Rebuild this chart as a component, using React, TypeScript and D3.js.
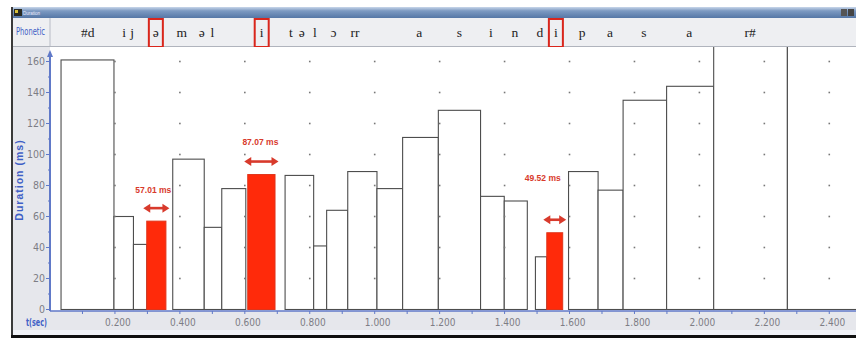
import React from 'react'
import * as d3 from 'd3'

// segment boundaries (s) and durations (ms)
const segStart = [0.034, 0.197, 0.257, 0.298, 0.378, 0.475, 0.529, 0.609, 0.724, 0.812, 0.852, 0.917, 1.007, 1.086, 1.196, 1.326, 1.399, 1.495, 1.530, 1.597, 1.688, 1.765, 1.899, 2.044, 2.271]
const segEnd = [0.197, 0.257, 0.298, 0.357, 0.475, 0.529, 0.603, 0.693, 0.812, 0.852, 0.917, 1.007, 1.086, 1.196, 1.326, 1.399, 1.470, 1.530, 1.579, 1.688, 1.765, 1.899, 2.044, 2.271, 2.6]
const durations = [161, 60, 42, 57.01, 97, 53, 78, 87.07, 86.5, 41, 64, 89, 78, 111, 128.5, 73, 70, 34, 49.52, 89, 77, 135, 144, 230, 240]
const highlighted = [3, 7, 18]
const annoLabels = ['57.01 ms', '87.07 ms', '49.52 ms']

// phonetic tier
const phoneLabels = ['#d', 'i', 'j', 'ə', 'm', 'ə', 'l', 'i', 't', 'ə', 'l', 'ɔ', 'rr', 'a', 's', 'i', 'n', 'd', 'i', 'p', 'a', 's', 'a', 'r#']
const phoneTimes = [0.116, 0.228, 0.253, 0.326, 0.406, 0.467, 0.500, 0.652, 0.742, 0.775, 0.816, 0.873, 0.939, 1.137, 1.261, 1.358, 1.432, 1.509, 1.558, 1.639, 1.725, 1.829, 1.969, 2.156]
const boxedPhones = [3, 7, 18]

const xTicks = [0.2, 0.4, 0.6, 0.8, 1.0, 1.2, 1.4, 1.6, 1.8, 2.0, 2.2, 2.4]
const xTickLabels = ['0.200', '0.400', '0.600', '0.800', '1.000', '1.200', '1.400', '1.600', '1.800', '2.000', '2.200', '2.400']
const yTicks = [0, 20, 40, 60, 80, 100, 120, 140, 160]

const W = 856
const H = 338
const PL = 50
const PT = 47
const PB = 311

const BLUE = '#3f5fc6'
const AXIS = '#6079c8'
const RED = '#ff2a0a'
const ANNO = '#d83a2c'
const NARROW = "'Liberation Sans Narrow', 'DejaVu Sans Condensed', 'Arial Narrow', sans-serif"

// annotation placement relative to the bar: [text dx, text dy above arrow]
const annoOffsets = [[-3, -15], [-1, -17], [-12, -39]]

export default function App() {
  const x = d3.scaleLinear().domain([0, 2.5]).range([PL, PL + 2.5 * 324.7])
  const y = d3.scaleLinear().domain([0, 160]).range([309.5, 61.5])

  const minorX = d3.range(0.1, 2.5, 0.2)
  const minorY = d3.range(10, 170, 20)

  const bars = durations.map((d, i) => ({ i, d, x0: x(segStart[i]), x1: x(segEnd[i]) }))
  const plain = bars.filter(b => !highlighted.includes(b.i))
  const reds = bars.filter(b => highlighted.includes(b.i))

  const dots: [number, number][] = []
  xTicks.forEach(t => yTicks.slice(1).forEach(v => dots.push([x(t), y(v)])))

  return (
    <svg width={W} height={H} style={{ position: 'absolute', left: 0, top: 0, background: '#fff' }}>
      <defs>
        <linearGradient id="title" x1="0" y1="0" x2="0" y2="1">
          <stop offset="0" stopColor="#c9d7ea" />
          <stop offset="0.35" stopColor="#7d9ac2" />
          <stop offset="1" stopColor="#5577a6" />
        </linearGradient>
        <clipPath id="plotClip">
          <rect x={PL} y={PT} width={W - PL} height={PB - PT} />
        </clipPath>
      </defs>

      {/* window frame */}
      <rect x={12} y={7} width={W - 12} height={329} fill="#e6e7ec" />
      <rect x={12} y={7} width={W - 12} height={11} fill="url(#title)" />
      <rect x={14} y={9} width={8} height={7} fill="#2a2a20" />
      <rect x={15} y={10} width={3} height={3} fill="#d9c23a" />
      <text x={23} y={14.5} fontSize={4.5} fill="#eef" fontFamily="sans-serif">Duration</text>
      <rect x={841} y={9} width={6} height={7} fill="#555" />
      <rect x={848} y={9} width={6} height={7} fill="#444" />

      {/* phonetic tier */}
      <rect x={13} y={18} width={W - 13} height={28} fill="#eeeff2" />
      <line x1={PL} x2={PL} y1={18} y2={47} stroke="#b8bcc6" />
      <line x1={13} x2={W} y1={46.5} y2={46.5} stroke="#b0b4bd" />
      <text x={16} y={35} fontSize={10} fill={BLUE} fontFamily={NARROW}
        textLength={29} lengthAdjust="spacingAndGlyphs">Phonetic</text>
      {phoneLabels.map((p, i) => (
        <text key={i} x={x(phoneTimes[i])} y={37} textAnchor="middle" fontSize={13.5}
          fill="#222" fontFamily="'Liberation Serif', serif">{p}</text>
      ))}
      {boxedPhones.map(i => (
        <rect key={i} x={x(phoneTimes[i]) - 7} y={19} width={14} height={28}
          fill="none" stroke="#d9261c" strokeWidth={2} />
      ))}

      {/* plot area */}
      <rect x={PL} y={PT} width={W - PL} height={PB - PT} fill="#fff" />
      <g clipPath="url(#plotClip)">
        {plain.map(b => (
          <rect key={b.i} x={b.x0} y={y(b.d)} width={b.x1 - b.x0} height={y(0) - y(b.d)}
            fill="#fff" stroke="#4d4d4d" strokeWidth={1.1} />
        ))}
        {dots.map(([cx, cy], i) => (
          <rect key={i} x={cx - 0.8} y={cy - 0.8} width={1.6} height={1.6} fill="#777" />
        ))}
        {reds.map(b => (
          <rect key={b.i} x={b.x0} y={y(b.d)} width={b.x1 - b.x0} height={y(0) - y(b.d)}
            fill={RED} stroke="#e0341a" strokeWidth={1} />
        ))}
      </g>

      {/* annotations */}
      {reds.map((b, k) => {
        const ay = y(b.d) - 13
        const ax0 = b.x0 - 3.5
        const ax1 = b.x1 + 3.5
        const cx = (b.x0 + b.x1) / 2
        return (
          <g key={k}>
            <line x1={ax0 + 5} x2={ax1 - 5} y1={ay} y2={ay} stroke={ANNO} strokeWidth={2.6} />
            <path d={`M${ax0},${ay} L${ax0 + 7},${ay - 4.5} L${ax0 + 7},${ay + 4.5} Z`} fill={ANNO} />
            <path d={`M${ax1},${ay} L${ax1 - 7},${ay - 4.5} L${ax1 - 7},${ay + 4.5} Z`} fill={ANNO} />
            <text x={cx + annoOffsets[k][0]} y={ay + annoOffsets[k][1]} textAnchor="middle"
              fontSize={9.5} fontWeight="bold" fill={ANNO} fontFamily="'Liberation Sans', Arial, sans-serif"
              textLength={36} lengthAdjust="spacingAndGlyphs">
              {annoLabels[k]}
            </text>
          </g>
        )
      })}

      {/* y axis */}
      <line x1={PL} x2={PL} y1={53} y2={PB} stroke={AXIS} strokeWidth={2} />
      <path d={`M${PL},${50} L${PL - 3},${57} L${PL + 3},${57} Z`} fill={AXIS} />
      {yTicks.map(v => (
        <g key={v}>
          <line x1={PL - 4} x2={PL} y1={y(v)} y2={y(v)} stroke={AXIS} />
          <text x={PL - 5} y={y(v) + 3.5} textAnchor="end" fontSize={10.5} fill="#7d7d85" fontFamily={NARROW}>{v}</text>
        </g>
      ))}
      {minorY.map(v => (
        <line key={v} x1={PL - 2} x2={PL} y1={y(v)} y2={y(v)} stroke={AXIS} />
      ))}
      <text transform={`translate(23,${180}) rotate(-90)`} textAnchor="middle" fontSize={10.5}
        fontWeight="bold" letterSpacing={1} fill={BLUE} fontFamily="'Liberation Sans', Arial, sans-serif">
        Duration (ms)
      </text>

      {/* x axis */}
      <line x1={PL} x2={W} y1={PB} y2={PB} stroke={AXIS} strokeWidth={1.5} />
      {xTicks.map((t, i) => (
        <g key={t}>
          <line x1={x(t)} x2={x(t)} y1={PB} y2={PB + 3} stroke={AXIS} />
          <text x={x(t) + 3} y={326} textAnchor="middle" fontSize={10} fill="#7d7d85" fontFamily={NARROW}>{xTickLabels[i]}</text>
        </g>
      ))}
      {minorX.map(t => (
        <line key={t} x1={x(t)} x2={x(t)} y1={PB} y2={PB + 3} stroke={AXIS} />
      ))}
      <text x={26} y={326} fontSize={10.5} fontWeight="bold" fill={BLUE} fontFamily={NARROW}
        textLength={21} lengthAdjust="spacingAndGlyphs">t(sec)</text>

      {/* frame edges */}
      <rect x={12} y={330} width={W - 12} height={5} fill="#f1f3f8" />
      <rect x={11} y={7} width={2} height={330} fill="#3a3a3a" />
      <rect x={11} y={335} width={W - 11} height={3} fill="#111" />
    </svg>
  )
}
